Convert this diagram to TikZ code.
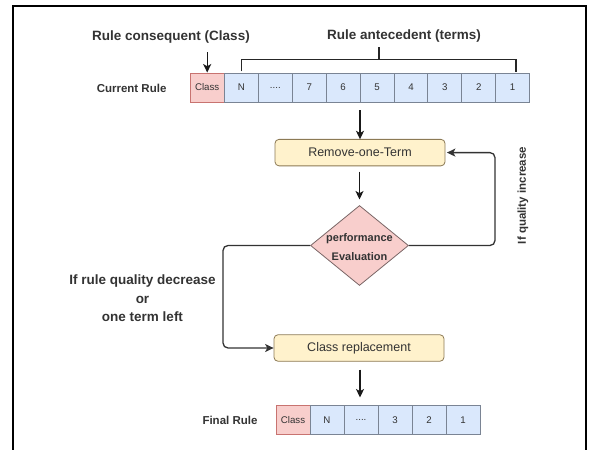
\documentclass[tikz,border=0pt]{standalone}
\usepackage{fontspec}
\setmainfont{Liberation Sans}
\usetikzlibrary{arrows.meta,shapes.geometric,calc}
\definecolor{txt}{HTML}{333333}
\definecolor{bluef}{HTML}{DAE8FC}
\definecolor{blued}{HTML}{7A8494}
\definecolor{pinkf}{HTML}{F8CECC}
\definecolor{pinkd}{HTML}{C87370}
\definecolor{yelf}{HTML}{FFF2CC}
\definecolor{yeld}{HTML}{8C7A55}
\definecolor{diad}{HTML}{7A6666}
\newcommand{\fourdots}{....}
\tikzset{
  cellbox/.style={draw=blued,fill=bluef,line width=0.9pt,minimum width=33.9pt,minimum height=29pt,inner sep=0pt,text=txt,font=\fontsize{9.7}{11}\selectfont},
  classbox/.style={cellbox,draw=pinkd,fill=pinkf},
  procbox/.style={draw=yeld,fill=yelf,line width=0.8pt,rounded corners=4pt,minimum width=170pt,minimum height=26.5pt,inner sep=0pt,text=txt,font=\fontsize{12.5}{14}\selectfont},
  bigtitle/.style={text=txt,font=\fontsize{13.5}{16}\selectfont\bfseries,inner sep=0pt},
  rowlabel/.style={text=txt,font=\fontsize{11.5}{14}\selectfont\bfseries,inner sep=0pt},
  arr/.style={line width=1.4pt,draw=black!90,-{Stealth[length=8.5pt,width=8pt,inset=2.2pt]}},
  loopline/.style={line width=1.3pt,draw=txt,rounded corners=5pt,-{Stealth[length=8.5pt,width=8pt,inset=2.2pt]}},
  brk/.style={line width=1.2pt,draw=black!85}
}
\begin{document}
\begin{tikzpicture}[x=1pt,y=-1pt]
\useasboundingbox (0,0) rectangle (590,450);
% frame
\draw[line width=2pt,black] (13,452) -- (13,5.5) -- (586,5.5) -- (586,452);

% top labels
\node[bigtitle] (rcons) at (171,36.7) {Rule consequent (Class)};
\node[bigtitle] (rante) at (404,36.5) {Rule antecedent (terms)};
\node[rowlabel] (curlab) at (131.6,88) {Current Rule};

% current rule row
\node[classbox,minimum width=34.5pt] (c0) at (207.2,87.5) {Class};
\node[cellbox] (c1) at (241.45,87.5) {N};
\node[cellbox] (c2) at (275.35,87.5) {\fourdots};
\node[cellbox] (c3) at (309.25,87.5) {7};
\node[cellbox] (c4) at (343.15,87.5) {6};
\node[cellbox] (c5) at (377.05,87.5) {5};
\node[cellbox] (c6) at (410.95,87.5) {4};
\node[cellbox] (c7) at (444.85,87.5) {3};
\node[cellbox] (c8) at (478.75,87.5) {2};
\node[cellbox] (c9) at (512.65,87.5) {1};

% class arrow
\coordinate (ca) at (207.2,52);
\draw[arr] (ca) -- (c0.north);

% bracket
\coordinate (bl) at ($(c1.north)+(0,-1.3)$);
\coordinate (br) at (516,71.7);
\coordinate (bm) at (379,59.3);
\coordinate (bt) at (379,46.7);
\draw[brk] (bl) -- (241.45,59.3) -- (516,59.3) -- (br);
\draw[brk] (bm) -- (bt);

% process boxes
\node[procbox] (rem) at (360,152.6) {Remove-one-Term};
\node[diamond,draw=diad,fill=pinkf,line width=0.8pt,minimum width=98pt,minimum height=80pt,inner sep=0pt] (eval) at (359.5,245.5) {};
\node[text=txt,font=\fontsize{11}{19}\selectfont\bfseries,align=center,inner sep=0pt] (evaltxt) at (359.5,247.5) {performance\\Evaluation};
\node[procbox] (repl) at (359,348) {Class replacement};

% vertical arrows
\coordinate (a1s) at (360,110);
\coordinate (a1e) at (360,139.3);
\draw[arr] (a1s) -- (a1e);
\coordinate (a2s) at (359.5,171.5);
\coordinate (a2e) at (359.5,199.5);
\draw[arr] (a2s) -- (a2e);
\coordinate (a3s) at (360,369.5);
\coordinate (a3e) at (360,397.5);
\draw[arr] (a3s) -- (a3e);

% loops
\draw[loopline] (eval.east) -- (495,245.5) -- (495,152.6) -- ($(rem.east)+(1.5,0)$);
\draw[loopline] (eval.west) -- (223,245.5) -- (223,348) -- (repl.west);

% side labels
\node[bigtitle,align=center,font=\fontsize{13.5}{18.5}\selectfont\bfseries] (declab) at (142.5,298.5) {If rule quality decrease\\or\\one term left};
\node[rowlabel,rotate=90] (inclab) at (523,195.5) {If quality increase};

% final rule
\node[rowlabel] (finlab) at (230,420) {Final Rule};
\node[classbox,minimum width=34pt] (f0) at (293,420) {Class};
\node[cellbox,minimum width=34pt] (f1) at (327,420) {N};
\node[cellbox,minimum width=34pt] (f2) at (361,420) {\fourdots};
\node[cellbox,minimum width=34pt] (f3) at (395,420) {3};
\node[cellbox,minimum width=34pt] (f4) at (429,420) {2};
\node[cellbox,minimum width=34pt] (f5) at (463,420) {1};
\end{tikzpicture}
\end{document}
